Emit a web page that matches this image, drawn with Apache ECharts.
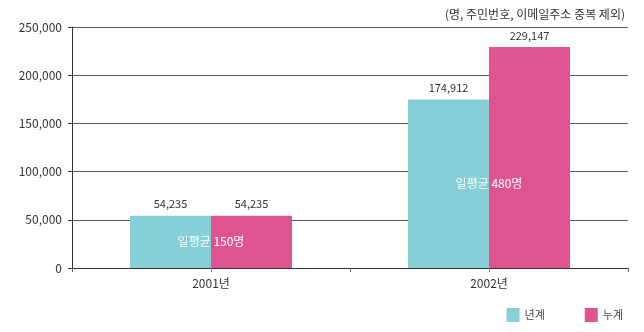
<!DOCTYPE html>
<html><head><meta charset="utf-8">
<script src="https://cdn.jsdelivr.net/npm/echarts@6/dist/echarts.min.js"></script>
<style>html,body{margin:0;padding:0;background:#fff}#c{width:644px;height:332px}</style>
</head><body><div id="c"></div>
<script>
const categories = ['2001년', '2002년'];
const yearly = [54235, 174912];
const cumulative = [54235, 229147];
const dailyAvg = ['일평균 150명', '일평균 480명'];
const seriesNames = ['년계', '누계'];
const unitNote = '(명, 주민번호, 이메일주소 중복 제외)';

const FONT = '"Noto Sans CJK KR", "Noto Sans", sans-serif';
const chart = echarts.init(document.getElementById('c'));
chart.setOption({
  animation: false,
  textStyle: {fontFamily: FONT},
  title: {text: unitNote, right: 14, top: 3, textStyle: {fontSize: 12, fontWeight: 'normal', color: '#333', fontFamily: FONT}},
  legend: {
    right: 16, bottom: 5, itemWidth: 13, itemHeight: 14, itemGap: 40,
    icon: 'rect',
    textStyle: {fontSize: 11, color: '#444', fontFamily: FONT},
    data: seriesNames
  },
  grid: {left: 72, right: 16, top: 27, bottom: 64},
  xAxis: [{
    type: 'category', data: categories,
    axisLine: {lineStyle: {color: '#333', width: 1}},
    axisTick: {show: true, length: 4, lineStyle: {color: '#666'}},
    axisLabel: {fontSize: 12, color: '#333', margin: 9, fontFamily: FONT}
  }, {
    type: 'category', data: categories, position: 'bottom',
    axisLine: {show: false},
    axisTick: {show: true, alignWithLabel: true, length: 4, lineStyle: {color: '#888'}},
    axisLabel: {show: false}
  }],
  yAxis: {
    type: 'value', min: 0, max: 250000, interval: 50000,
    axisLine: {show: true, lineStyle: {color: '#333'}},
    axisTick: {show: true, length: 4, lineStyle: {color: '#333'}},
    splitLine: {lineStyle: {color: '#555', width: 1}},
    axisLabel: {fontSize: 12, color: '#333', margin: 10, fontFamily: FONT,
      formatter: v => v.toLocaleString('en-US')}
  },
  series: [
    {
      name: seriesNames[0], type: 'bar', data: yearly, barWidth: 81, barGap: '0%',
      itemStyle: {color: '#86CFD6'},
      label: {show: true, position: 'top', fontSize: 11, color: '#333', distance: 6,
        formatter: p => p.value.toLocaleString('en-US')},
      markPoint: {
        symbol: 'rect', symbolSize: 1, itemStyle: {color: 'rgba(0,0,0,0)'},
        silent: true, z: 10,
        label: {show: true, position: 'inside', offset: [40.5, 0], fontSize: 12, color: '#fff', fontFamily: FONT,
          formatter: p => p.value},
        data: yearly.map((v, i) => ({coord: [categories[i], v / 2], value: dailyAvg[i]}))
      }
    },
    {
      name: seriesNames[1], type: 'bar', data: cumulative, barWidth: 81, barGap: '0%',
      itemStyle: {color: '#E05391'},
      label: {show: true, position: 'top', fontSize: 11, color: '#333', distance: 6,
        formatter: p => p.value.toLocaleString('en-US')}
    }
  ]
});
</script></body></html>
